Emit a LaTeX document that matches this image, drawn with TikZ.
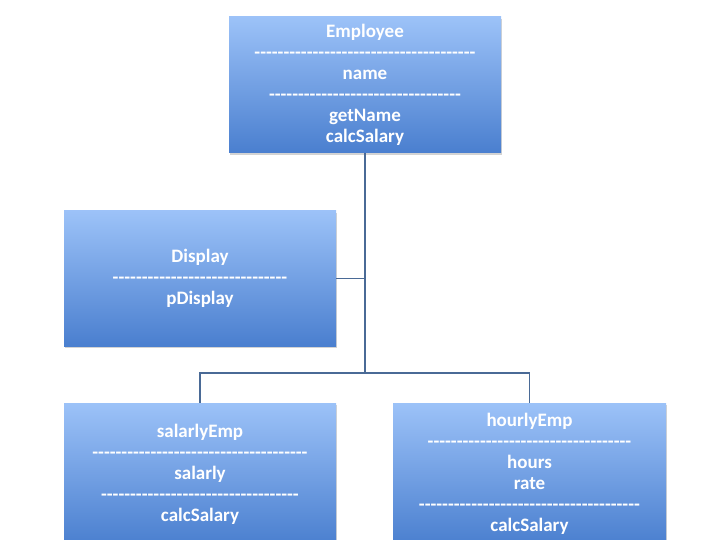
\documentclass[tikz,border=0pt]{standalone}
\usepackage{fontspec}
\setmainfont{Carlito}
\usetikzlibrary{shadows}

\definecolor{boxtop}{HTML}{9CC2F8}
\definecolor{boxbot}{HTML}{4A7FCF}
\definecolor{linkcol}{HTML}{4A6A96}

\newcommand{\dashrow}[1]{\foreach \i in {1,...,#1}{-\kern0pt}}

\tikzset{
  classbox/.style={rectangle, top color=boxtop, bottom color=boxbot,
    text=white, align=center, minimum width=272pt,
    font=\fontsize{19}{21}\selectfont\bfseries,
    drop shadow={shadow xshift=1pt, shadow yshift=-2pt, opacity=0.35}},
  link/.style={draw=linkcol, line width=1.3pt}
}

\begin{document}
\begin{tikzpicture}[x=1pt, y=-1pt]
\useasboundingbox (0,0) rectangle (720,540);

\node[classbox, minimum height=136pt] (employee) at (365,85)
  {Employee\\ \dashrow{38}\\ name\\ \dashrow{33}\\ getName\\ calcSalary};
\node[classbox, minimum height=135pt] (display) at (200,278.5)
  {Display\\ \dashrow{30}\\ pDisplay};
\node[classbox, minimum height=142pt] (salarly) at (200,474)
  {salarlyEmp\\ \dashrow{37}\\ salarly\\ \dashrow{34}\\ calcSalary};
\node[classbox, minimum width=273pt, minimum height=142pt] (hourly) at (529.5,474)
  {hourlyEmp\\ \dashrow{35}\\ hours\\ rate\\ \dashrow{38}\\ calcSalary};

\coordinate (split) at (365,373);

\draw[link] (employee.south) -- (split);
\draw[link] (split) -| (salarly.north);
\draw[link] (split) -| (hourly.north);
\draw[link] (display.east) -- (display.east -| split);

\end{tikzpicture}
\end{document}
